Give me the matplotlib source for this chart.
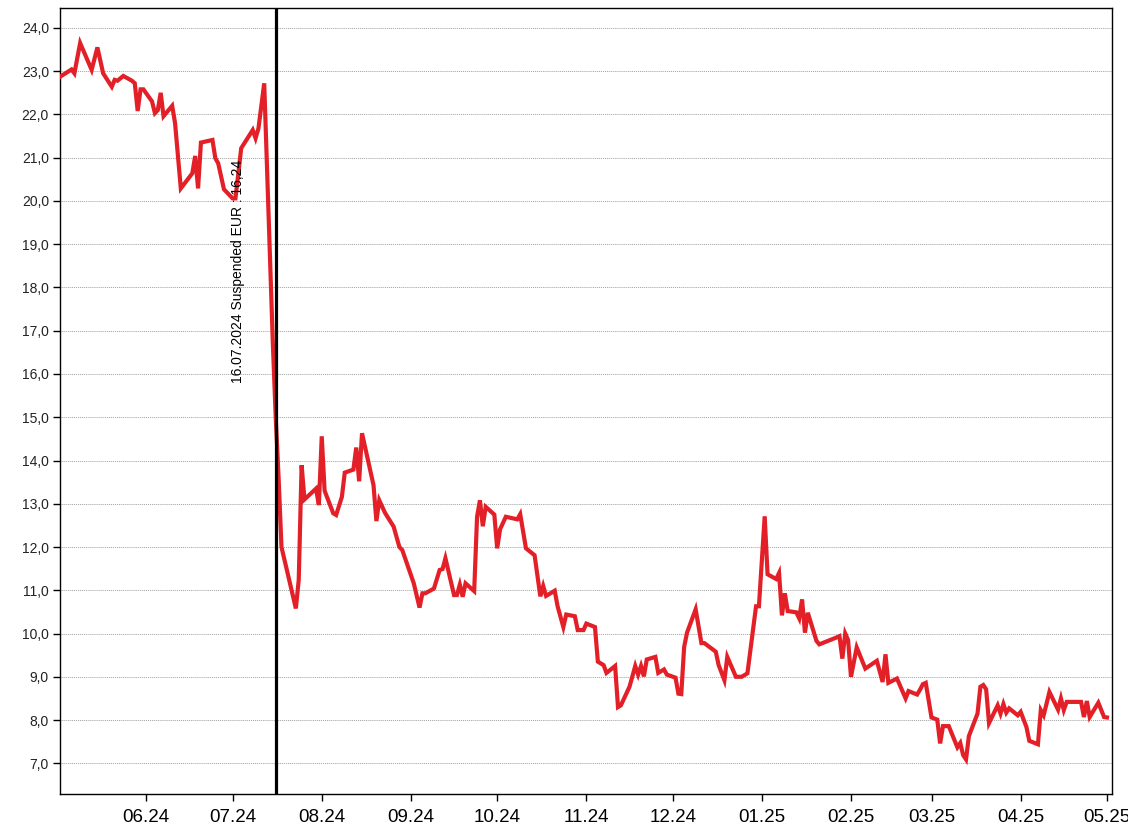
#price chart with suspension marker
import datetime as dt
import matplotlib.pyplot as plt
import matplotlib.dates as mdates
from matplotlib.ticker import FuncFormatter, MultipleLocator

plt.rcParams['font.family'] = ['Liberation Sans', 'DejaVu Sans']

dates = [
    "2024-05-02", "2024-05-06", "2024-05-07", "2024-05-09", "2024-05-13", "2024-05-15",
    "2024-05-17", "2024-05-20", "2024-05-21", "2024-05-22", "2024-05-24", "2024-05-27",
    "2024-05-28", "2024-05-29", "2024-05-30", "2024-05-31",
    "2024-06-03", "2024-06-04", "2024-06-05", "2024-06-06", "2024-06-07", "2024-06-10",
    "2024-06-11", "2024-06-13", "2024-06-17", "2024-06-18", "2024-06-19", "2024-06-20",
    "2024-06-24", "2024-06-25", "2024-06-26", "2024-06-28",
    "2024-07-01", "2024-07-02", "2024-07-04", "2024-07-08", "2024-07-09", "2024-07-10",
    "2024-07-12", "2024-07-15", "2024-07-16", "2024-07-17", "2024-07-18", "2024-07-23",
    "2024-07-24", "2024-07-25", "2024-07-26", "2024-07-30", "2024-07-31",
    "2024-08-01", "2024-08-02", "2024-08-05", "2024-08-06", "2024-08-08", "2024-08-09",
    "2024-08-12", "2024-08-13", "2024-08-14", "2024-08-15", "2024-08-19", "2024-08-20",
    "2024-08-21", "2024-08-23", "2024-08-26", "2024-08-28", "2024-08-29",
    "2024-09-02", "2024-09-04", "2024-09-05", "2024-09-06", "2024-09-09", "2024-09-11",
    "2024-09-12", "2024-09-13", "2024-09-16", "2024-09-17", "2024-09-18", "2024-09-19",
    "2024-09-20", "2024-09-23", "2024-09-24", "2024-09-25", "2024-09-26", "2024-09-27",
    "2024-09-30",
    "2024-10-01", "2024-10-02", "2024-10-04", "2024-10-08", "2024-10-09", "2024-10-11",
    "2024-10-14", "2024-10-16", "2024-10-17", "2024-10-18", "2024-10-21", "2024-10-22",
    "2024-10-24", "2024-10-25", "2024-10-28", "2024-10-29", "2024-10-31",
    "2024-11-01", "2024-11-04", "2024-11-05", "2024-11-07", "2024-11-08", "2024-11-11",
    "2024-11-12", "2024-11-13", "2024-11-16", "2024-11-18", "2024-11-19", "2024-11-20",
    "2024-11-21", "2024-11-22", "2024-11-25", "2024-11-26", "2024-11-28", "2024-11-29",
    "2024-12-02", "2024-12-03", "2024-12-04", "2024-12-05", "2024-12-06", "2024-12-09",
    "2024-12-11", "2024-12-12", "2024-12-16", "2024-12-17", "2024-12-19", "2024-12-20",
    "2024-12-23", "2024-12-25", "2024-12-27", "2024-12-30", "2024-12-31",
    "2025-01-02", "2025-01-03", "2025-01-06", "2025-01-07", "2025-01-08", "2025-01-09",
    "2025-01-10", "2025-01-13", "2025-01-14", "2025-01-15", "2025-01-16", "2025-01-17",
    "2025-01-20", "2025-01-21", "2025-01-27", "2025-01-28", "2025-01-29", "2025-01-30",
    "2025-01-31", "2025-02-01",
    "2025-02-03", "2025-02-06", "2025-02-10", "2025-02-12", "2025-02-13", "2025-02-14",
    "2025-02-17", "2025-02-20", "2025-02-21", "2025-02-24", "2025-02-25", "2025-02-26",
    "2025-02-27",
    "2025-03-01", "2025-03-03", "2025-03-04", "2025-03-05", "2025-03-07", "2025-03-10",
    "2025-03-11", "2025-03-12", "2025-03-13", "2025-03-14", "2025-03-17", "2025-03-18",
    "2025-03-19", "2025-03-20", "2025-03-21", "2025-03-24", "2025-03-25", "2025-03-26",
    "2025-03-27", "2025-03-28", "2025-03-31",
    "2025-04-01", "2025-04-03", "2025-04-04", "2025-04-07", "2025-04-08", "2025-04-09",
    "2025-04-11", "2025-04-14", "2025-04-15", "2025-04-16", "2025-04-17", "2025-04-22",
    "2025-04-23", "2025-04-24", "2025-04-25", "2025-04-28", "2025-04-30", "2025-05-01",
]
prices = [
    22.87, 23.04, 22.95, 23.65, 23.03, 23.55,
    22.95, 22.64, 22.80, 22.78, 22.89, 22.78,
    22.72, 22.08, 22.58, 22.58,
    22.30, 22.03, 22.10, 22.50, 21.96, 22.20,
    21.80, 20.29, 20.64, 21.04, 20.29, 21.35,
    21.41, 20.99, 20.87, 20.27,
    20.06, 20.06, 21.22, 21.64, 21.45, 21.68,
    22.72, 16.70, 15.00, 13.60, 12.00, 10.58,
    11.24, 13.89, 13.10, 13.35, 12.97,
    14.56, 13.30, 12.78, 12.74, 13.16, 13.72,
    13.79, 14.30, 13.52, 14.63, 13.43, 12.60,
    13.08, 12.79, 12.47, 12.00, 11.93,
    11.16, 10.60, 10.93, 10.93, 11.04, 11.47,
    11.49, 11.74, 10.89, 10.89, 11.13, 10.85,
    11.16, 10.98, 12.70, 13.08, 12.48, 12.93,
    12.75,
    11.97, 12.41, 12.70, 12.64, 12.76, 11.97,
    11.81, 10.86, 11.10, 10.87, 10.99, 10.63,
    10.15, 10.44, 10.40, 10.08, 10.08,
    10.23, 10.15, 9.35, 9.27, 9.09, 9.25,
    8.30, 8.34, 8.77, 9.25, 9.05, 9.25,
    9.01, 9.40, 9.46, 9.09, 9.17, 9.05,
    8.98, 8.61, 8.60, 9.69, 10.02, 10.56,
    9.78, 9.78, 9.58, 9.27, 8.92, 9.46,
    9.00, 9.00, 9.08, 10.63, 10.63,
    12.71, 11.37, 11.26, 11.40, 10.42, 10.93,
    10.52, 10.49, 10.35, 10.79, 10.02, 10.48,
    9.83, 9.75, 9.91, 9.94, 9.42, 10.00,
    9.85, 9.00,
    9.68, 9.19, 9.37, 8.88, 9.52, 8.86,
    8.96, 8.50, 8.67, 8.59, 8.70, 8.83,
    8.86,
    8.06, 8.01, 7.46, 7.86, 7.86, 7.37,
    7.47, 7.19, 7.09, 7.63, 8.15, 8.77,
    8.81, 8.71, 7.93, 8.34, 8.15, 8.37,
    8.17, 8.27, 8.11,
    8.19, 7.84, 7.52, 7.44, 8.23, 8.11,
    8.65, 8.24, 8.50, 8.23, 8.42, 8.42,
    8.07, 8.44, 8.07, 8.40, 8.07, 8.06,
]

suspend_date = "2024-07-16"
suspend_label = "16.07.2024 Suspended EUR : 16,24"

x = [dt.datetime.strptime(d, "%Y-%m-%d") for d in dates]

fig = plt.figure(figsize=(11.28, 8.36), dpi=100)
ax = fig.add_axes([0.0532, 0.0502, 0.9326, 0.9402])

ax.plot(x, prices, color='#e32028', linewidth=3, solid_joinstyle='miter', zorder=3)

sx = dt.datetime.strptime(suspend_date, "%Y-%m-%d")
ax.axvline(sx, color='black', linewidth=2.3, zorder=4)
ax.text(dt.datetime(2024, 7, 3), 15.8, suspend_label, rotation=90,
        ha='center', va='bottom', fontsize=10, zorder=5)

ax.set_xlim(dt.datetime(2024, 5, 2), dt.datetime(2025, 5, 2, 18))
ax.set_ylim(6.29, 24.46)

ax.yaxis.set_major_locator(MultipleLocator(1))
ax.yaxis.set_major_formatter(FuncFormatter(lambda v, p: f"{v:.1f}".replace('.', ',')))
ax.xaxis.set_major_locator(mdates.MonthLocator())
ax.xaxis.set_major_formatter(mdates.DateFormatter('%m.%y'))

ax.grid(True, axis='y', color='#a0a0a0', linestyle=(0, (1, 1)), linewidth=0.7)
ax.grid(False, axis='x')
ax.tick_params(axis='y', labelsize=10, length=5, width=1, pad=3, labelcolor='#222222')
ax.tick_params(axis='x', labelsize=13.5, length=5, width=1, pad=6)
for s in ax.spines.values():
    s.set_linewidth(1)

fig.savefig('out.png', dpi=100)
